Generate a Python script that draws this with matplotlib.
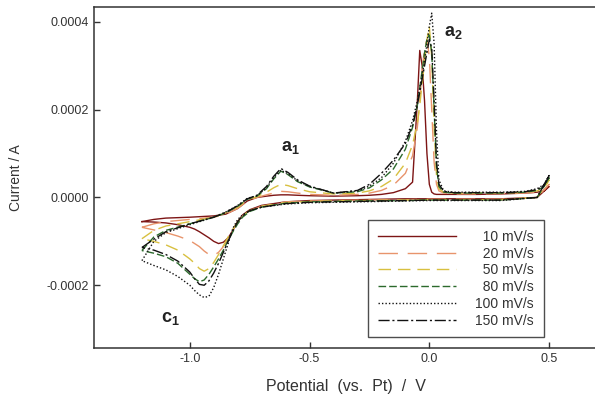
import numpy as np
import matplotlib
matplotlib.use("Agg")
import matplotlib.pyplot as plt

plt.rcParams['font.family'] = ['Liberation Sans', 'DejaVu Sans']
plt.rcParams['mathtext.fontset'] = 'custom'
plt.rcParams['mathtext.rm'] = 'Liberation Sans'
plt.rcParams['mathtext.bf'] = 'Liberation Sans:bold'
plt.rcParams['axes.unicode_minus'] = False

# potential grids (V): forward sweep -1.2 -> 0.5, reverse sweep 0.5 -> -1.2
x_fwd = [-1.2, -1.15, -1.1, -1.0, -0.9, -0.85, -0.8, -0.76, -0.72, -0.68, -0.65, -0.62,
         -0.59, -0.55, -0.5, -0.4, -0.3, -0.25, -0.2, -0.15, -0.1, -0.07, -0.05, -0.04,
         -0.03, -0.02, -0.01, 0.0, 0.01, 0.02, 0.03, 0.04, 0.06, 0.1, 0.2, 0.3, 0.4,
         0.45, 0.48, 0.5]
x_rev = [0.5, 0.45, 0.3, 0.15, 0.05, 0.0, -0.1, -0.3, -0.5, -0.6, -0.7, -0.75, -0.78,
         -0.8, -0.82, -0.84, -0.86, -0.88, -0.9, -0.92, -0.94, -0.96, -0.98, -1.0,
         -1.05, -1.1, -1.15, -1.2]

# currents in 1e-4 A
i10_fwd = [-0.55, -0.5, -0.47, -0.45, -0.42, -0.38, -0.25, -0.08, 0.0, 0.03, 0.05, 0.06,
           0.06, 0.05, 0.04, 0.03, 0.04, 0.05, 0.07, 0.11, 0.2, 0.35, 2.2, 3.35, 3.0,
           2.2, 1.0, 0.3, 0.12, 0.08, 0.07, 0.07, 0.07, 0.07, 0.07, 0.08, 0.1, 0.12,
           0.15, 0.25]
i10_rev = [0.25, 0.0, -0.03, -0.03, -0.03, -0.03, -0.03, -0.05, -0.07, -0.1, -0.18,
           -0.28, -0.4, -0.55, -0.75, -0.92, -1.02, -1.05, -1.0, -0.92, -0.85, -0.78,
           -0.72, -0.68, -0.62, -0.58, -0.56, -0.55]

i20_fwd = [-0.68, -0.6, -0.55, -0.5, -0.45, -0.38, -0.25, -0.08, 0.0, 0.06, 0.1, 0.14,
           0.13, 0.1, 0.07, 0.05, 0.07, 0.1, 0.16, 0.28, 0.55, 0.95, 1.6, 2.2, 2.9, 3.4,
           3.6, 3.2, 2.0, 0.8, 0.3, 0.15, 0.1, 0.08, 0.08, 0.09, 0.1, 0.12, 0.18, 0.3]
i20_rev = [0.3, 0.0, -0.04, -0.04, -0.04, -0.04, -0.05, -0.06, -0.08, -0.1, -0.2, -0.3,
           -0.42, -0.55, -0.75, -0.95, -1.12, -1.25, -1.32, -1.3, -1.22, -1.12, -1.05,
           -0.98, -0.88, -0.8, -0.74, -0.68]

i50_fwd = [-0.94, -0.75, -0.65, -0.55, -0.45, -0.35, -0.22, -0.05, 0.02, 0.12, 0.22, 0.3,
           0.27, 0.2, 0.13, 0.08, 0.1, 0.15, 0.25, 0.42, 0.78, 1.2, 1.7, 2.1, 2.6, 3.1,
           3.6, 3.9, 3.2, 1.6, 0.5, 0.2, 0.12, 0.1, 0.1, 0.1, 0.12, 0.15, 0.22, 0.4]
i50_rev = [0.4, 0.0, -0.05, -0.05, -0.05, -0.05, -0.06, -0.07, -0.09, -0.12, -0.2, -0.3,
           -0.42, -0.55, -0.72, -0.9, -1.1, -1.3, -1.48, -1.62, -1.68, -1.62, -1.5,
           -1.4, -1.2, -1.08, -1.0, -0.94]

i80_fwd = [-1.21, -0.9, -0.75, -0.6, -0.45, -0.35, -0.2, -0.04, 0.03, 0.2, 0.42, 0.6,
           0.52, 0.36, 0.24, 0.1, 0.13, 0.22, 0.4, 0.65, 1.1, 1.6, 2.1, 2.5, 2.9, 3.3,
           3.6, 3.7, 3.3, 2.0, 0.7, 0.25, 0.12, 0.1, 0.1, 0.1, 0.12, 0.16, 0.25, 0.45]
i80_rev = [0.45, 0.0, -0.06, -0.06, -0.06, -0.06, -0.07, -0.08, -0.1, -0.13, -0.22,
           -0.32, -0.45, -0.6, -0.78, -0.98, -1.2, -1.4, -1.58, -1.75, -1.88, -1.92,
           -1.85, -1.75, -1.5, -1.35, -1.27, -1.21]

i100_fwd = [-1.44, -1.0, -0.8, -0.62, -0.45, -0.33, -0.18, -0.02, 0.04, 0.22, 0.45, 0.62,
            0.54, 0.38, 0.25, 0.1, 0.15, 0.26, 0.45, 0.78, 1.28, 1.75, 2.2, 2.5, 2.8, 3.1,
            3.5, 3.9, 4.2, 3.5, 1.5, 0.4, 0.15, 0.12, 0.12, 0.12, 0.14, 0.2, 0.3, 0.5]
i100_rev = [0.5, 0.0, -0.07, -0.07, -0.07, -0.07, -0.08, -0.1, -0.12, -0.15, -0.22,
            -0.3, -0.4, -0.5, -0.7, -1.05, -1.4, -1.75, -2.05, -2.25, -2.28, -2.22,
            -2.12, -2.0, -1.8, -1.65, -1.55, -1.44]

i150_fwd = [-1.14, -0.95, -0.78, -0.6, -0.45, -0.34, -0.19, -0.03, 0.05, 0.25, 0.48, 0.66,
            0.57, 0.4, 0.26, 0.1, 0.16, 0.3, 0.55, 0.85, 1.23, 1.65, 2.1, 2.4, 2.7, 3.0,
            3.3, 3.6, 3.4, 2.2, 0.8, 0.3, 0.14, 0.11, 0.11, 0.11, 0.13, 0.18, 0.28, 0.5]
i150_rev = [0.5, 0.0, -0.06, -0.06, -0.06, -0.06, -0.07, -0.09, -0.11, -0.14, -0.22,
            -0.3, -0.42, -0.55, -0.75, -1.0, -1.25, -1.5, -1.72, -1.9, -2.0, -1.98,
            -1.85, -1.7, -1.45, -1.3, -1.2, -1.14]

rates = ['10 mV/s', '20 mV/s', '50 mV/s', '80 mV/s', '100 mV/s', '150 mV/s']
fwd = [i10_fwd, i20_fwd, i50_fwd, i80_fwd, i100_fwd, i150_fwd]
rev = [i10_rev, i20_rev, i50_rev, i80_rev, i100_rev, i150_rev]
colors = ['#7d1515', '#e8946c', '#d8c040', '#2c6a2c', '#111111', '#111111']
styles = ['-', (0, (14, 7)), (0, (9, 5)), (0, (5.5, 2.2)), (0, (1, 1.5)), (0, (8, 2, 1.5, 2))]

fig = plt.figure(figsize=(5.95, 4.03), dpi=100)
ax = fig.add_axes([94/595, 55/403, 503/595, 341/403])

for lab, f, r, c, ls in zip(rates, fwd, rev, colors, styles):
    xs = x_fwd + x_rev
    ys = np.array(f + r) * 1e-4
    ax.plot(xs, ys, color=c, ls=ls, lw=1.0, label='\u2007' * (8 - len(lab)) + lab)

ax.set_xlim(-1.4, 0.7)
ax.set_ylim(-3.43e-4, 4.34e-4)
ax.set_xticks([-1.0, -0.5, 0.0, 0.5])
ax.set_yticks([-0.0002, 0.0, 0.0002, 0.0004])
ax.set_yticklabels(['-0.0002', '0.0000', '0.0002', '0.0004'])
ax.tick_params(direction='in', length=4, width=1, labelsize=9, colors='#333333')
for s in ax.spines.values():
    s.set_linewidth(1.1)
    s.set_color('#333333')

ax.set_xlabel('Potential  (vs.  Pt)  /  V', fontsize=11.5, color='#333333', labelpad=10)
ax.set_ylabel('Current / A', fontsize=10, color='#333333', labelpad=17)

ax.text(-0.58, 1.13e-4, r'$\mathbf{a_1}$', fontsize=13, ha='center', va='center', color='#222222')
ax.text(0.10, 3.77e-4, r'$\mathbf{a_2}$', fontsize=13, ha='center', va='center', color='#222222')
ax.text(-1.08, -2.75e-4, r'$\mathbf{c_1}$', fontsize=13, ha='center', va='center', color='#222222')

leg = ax.legend(loc='upper left', bbox_to_anchor=(368/595, 1 - 220/403),
                bbox_transform=fig.transFigure, frameon=True, fancybox=False,
                fontsize=10, handlelength=5.6, handletextpad=1.4, labelspacing=0.2,
                borderpad=0.7, borderaxespad=0)
leg.get_frame().set_edgecolor('#222222')
leg.get_frame().set_linewidth(1.0)
for t in leg.get_texts():
    t.set_color('#333333')

fig.savefig('out.png', dpi=100)
